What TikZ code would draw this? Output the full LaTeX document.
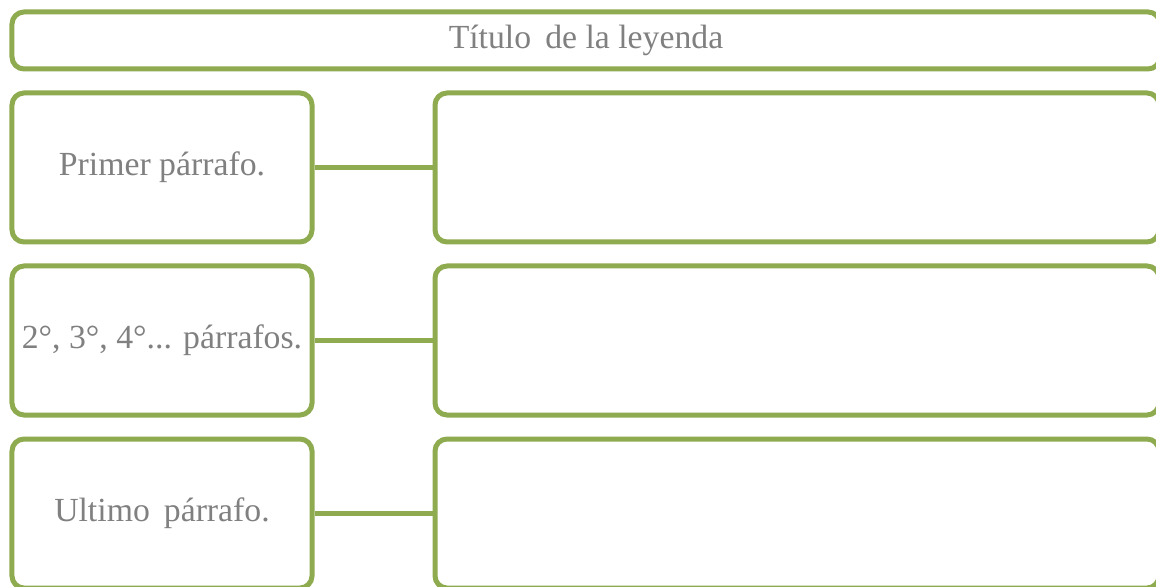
\documentclass[tikz,border=0pt]{standalone}
\usepackage{fontspec}
\setmainfont{Liberation Serif}
\usepackage{tikz}
\usetikzlibrary{positioning}
\definecolor{LeyendaGreen}{RGB}{143, 171, 80}
\definecolor{LeyendaGray}{RGB}{128, 128, 128}

\begin{document}
\begin{tikzpicture}[
    node distance=0.475cm and 2.95cm,
    caja/.style={rectangle, rounded corners=0.3cm, draw=LeyendaGreen, line width=0.125cm, fill=white, inner sep=0pt, align=center, text=LeyendaGray, font=\fontsize{24}{28}\selectfont},
    titulobox/.style={caja, minimum width=28.7cm, minimum height=1.425cm},
    parrafo/.style={caja, minimum width=7.5cm, minimum height=3.725cm},
    contenido/.style={caja, minimum width=18.1cm, minimum height=3.725cm},
    conector/.style={draw=LeyendaGreen, line width=0.125cm}
  ]
    \clip (0,0) rectangle (28.9,-14.675);
    \useasboundingbox (0,0) rectangle (28.9,-14.675);

    \node[titulobox] (titulo) at (14.65,-1.0125) {Título\, de la leyenda};
    \node[parrafo, below right=0.475cm and 0cm of titulo.south west] (primer) {Primer párrafo.};
    \node[parrafo, below=of primer] (segundo) {2°, 3°, 4°... párrafos.};
    \node[parrafo, below=of segundo] (ultimo) {Ultimo\, párrafo.};

    \node[contenido, right=of primer] (texto1) {};
    \node[contenido, right=of segundo] (texto2) {};
    \node[contenido, right=of ultimo] (texto3) {};

    \draw[conector] (primer) -- (texto1);
    \draw[conector] (segundo) -- (texto2);
    \draw[conector] (ultimo) -- (texto3);
  \end{tikzpicture}
\end{document}
